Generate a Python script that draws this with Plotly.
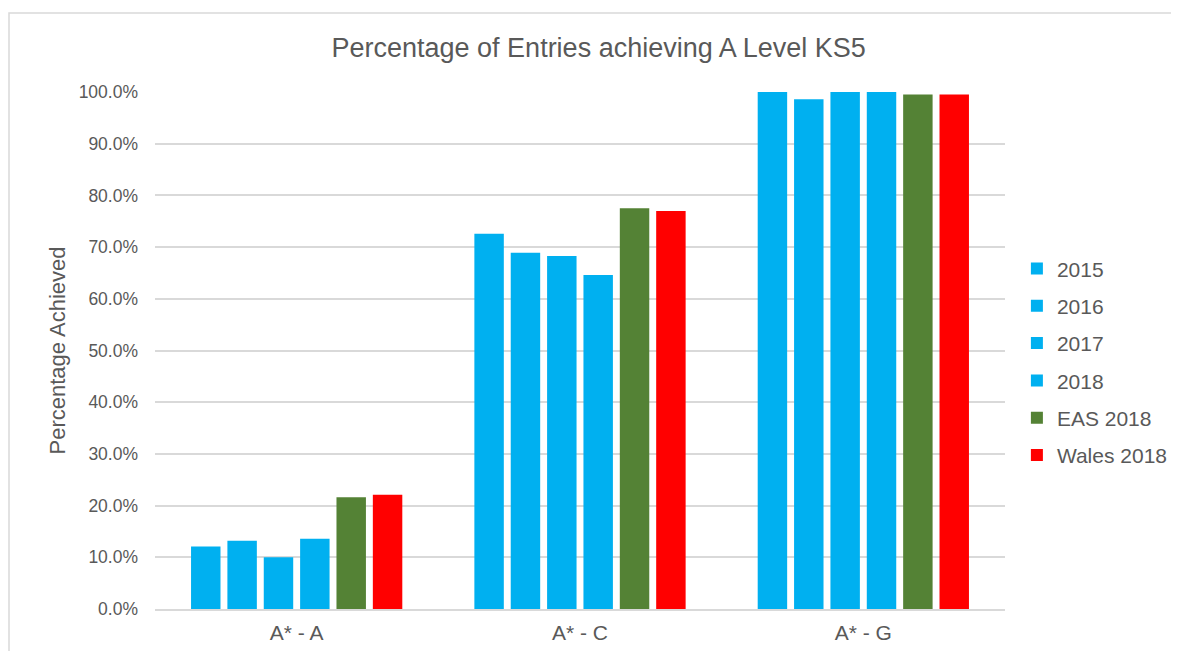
import plotly.graph_objects as go

categories = ["A* - A", "A* - C", "A* - G"]
series_names = ["2015", "2016", "2017", "2018", "EAS 2018", "Wales 2018"]
values_2015 = [12.1, 72.6, 100.0]
values_2016 = [13.2, 68.9, 98.6]
values_2017 = [10.0, 68.3, 100.0]
values_2018 = [13.6, 64.6, 100.0]
values_eas = [21.6, 77.5, 99.5]
values_wales = [22.1, 77.0, 99.5]

all_values = [values_2015, values_2016, values_2017, values_2018, values_eas, values_wales]
colours = ["#00B0F0", "#00B0F0", "#00B0F0", "#00B0F0", "#548235", "#FF0000"]

fig = go.Figure()
for name, vals, col in zip(series_names, all_values, colours):
    fig.add_trace(go.Bar(x=categories, y=vals, name=name, marker_color=col,
                         marker_line_width=0, legendgroup=name))

grey = "#595959"
font = "Liberation Sans, Arial, sans-serif"
fig.update_layout(
    width=1179, height=651,
    paper_bgcolor="white", plot_bgcolor="white",
    margin=dict(l=147, r=182, t=84, b=50),
    barmode="group", bargap=0.23, bargroupgap=0.19,
    font=dict(family=font, color=grey),
    title=dict(text="Percentage of Entries achieving A Level KS5", x=0.501, xanchor="center",
               y=0.94, yanchor="middle", font=dict(size=27, color=grey)),
    legend=dict(x=1.014, xanchor="left", y=0.478, yanchor="middle",
                font=dict(size=21, color=grey), tracegroupgap=7),
    showlegend=True,
)
fig.update_yaxes(range=[0, 100], dtick=10, ticksuffix="%", tickformat=".1f",
                 showgrid=True, gridcolor="#d9d9d9", gridwidth=1.5, zeroline=False,
                 tickfont=dict(size=17.5, color=grey), ticks="", ticklen=0, ticklabelstandoff=16,
                 title=dict(text="Percentage Achieved", font=dict(size=22, color=grey), standoff=6))
fig.update_xaxes(showline=True, linecolor="#d9d9d9", linewidth=1.5,
                 tickfont=dict(size=21, color=grey), ticks="", ticklabelstandoff=4)

# outer chart border
fig.add_shape(type="rect", xref="paper", yref="paper",
              x0=-146 / 850, x1=1200 / 850,
              y0=-100 / 517, y1=(601 - 5) / 517,
              line=dict(color="#d9d9d9", width=1.5), fillcolor="rgba(0,0,0,0)", layer="below")

fig.write_html("out.html")
